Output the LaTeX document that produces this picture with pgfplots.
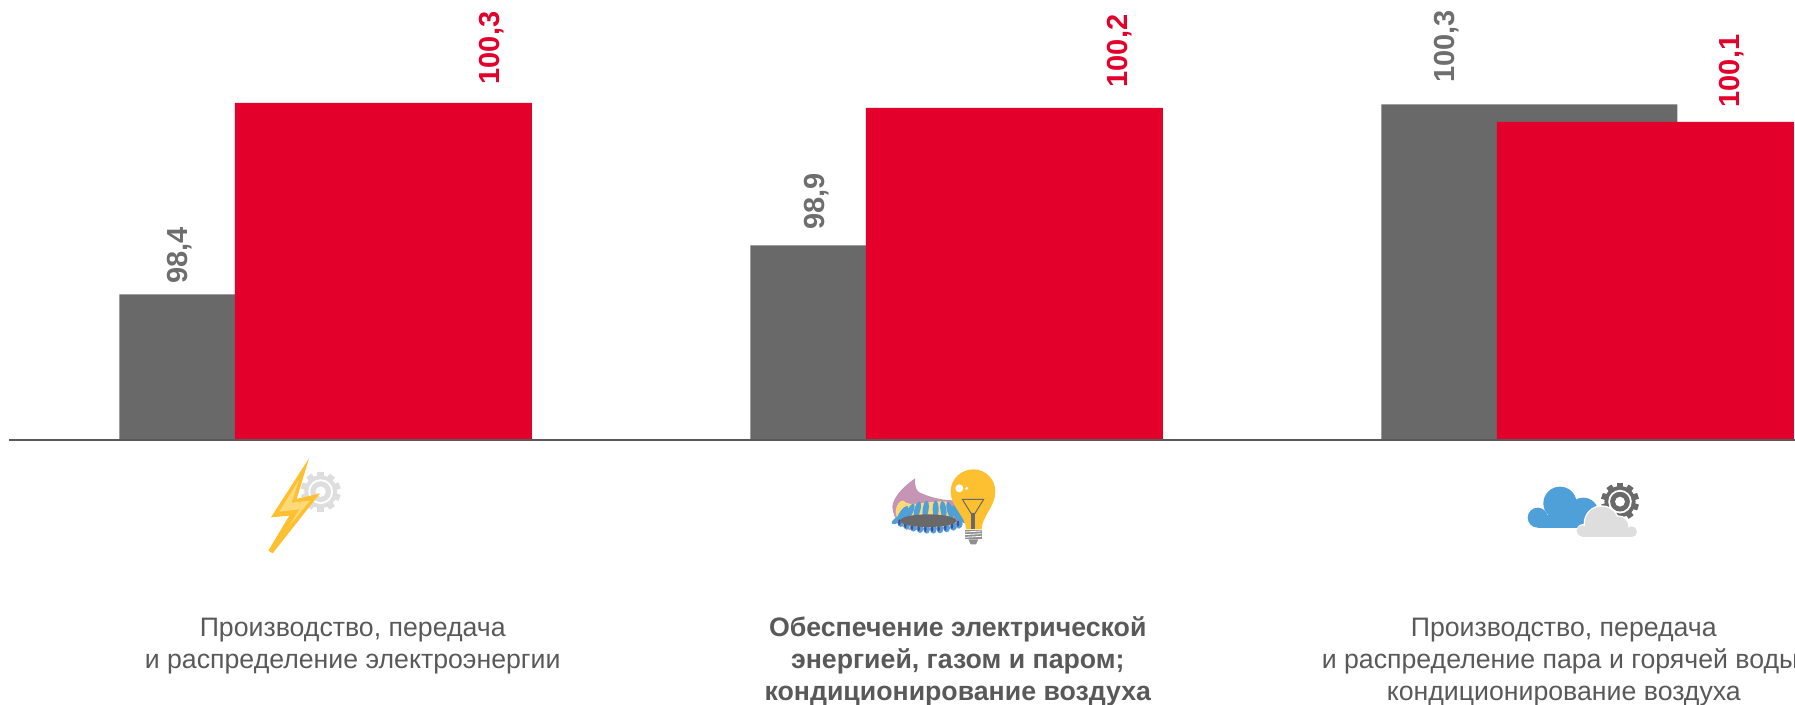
\documentclass[border=0pt]{standalone}
\usepackage{fontspec}
\setmainfont{Liberation Sans}
\usepackage{pgfplots}
\usepackage{pgfplotstable}
\pgfplotsset{compat=1.18}
\definecolor{cgray}{HTML}{696969}
\definecolor{cred}{HTML}{E3002A}
\definecolor{ltxt}{HTML}{6E6E6E}
\definecolor{ctxt}{HTML}{595959}
\definecolor{cyel}{HTML}{FDC030}
\definecolor{cyel2}{HTML}{FDD97A}
\definecolor{cblue}{HTML}{4F9FD8}
\definecolor{cpink}{HTML}{C795B4}
\definecolor{clg}{HTML}{DEDEDE}
\pgfplotstableread{
x y lbl dx dy
0 98.385 98,4 -88 10.5
1 98.875 98,9 -82 15.5
2 100.285 100,3 -83 21.5
}\grayt
\pgfplotstableread{
x y lbl dx dy
0 100.30 100,3 108 18.5
1 100.25 100,2 105.5 20.5
2 100.11 100,1 86.5 14.5
}\redt
% gear: cx cy outer-radius colour
\newcommand{\gear}[4]{%
  \foreach \a in {0,36,...,324}{\fill[#4,rotate around={\a:(#1,#2)}] (#1-0.16*#3,#2) rectangle (#1+0.16*#3,#2+#3);}
  \fill[#4] (#1,#2) circle[radius=0.82*#3];
  \fill[white] (#1,#2) circle[radius=0.62*#3];
  \fill[#4] (#1,#2) circle[radius=0.52*#3];
  \fill[white] (#1,#2) circle[radius=0.26*#3];
}
\newcommand{\up}{\rule{0pt}{20.5pt}}
\begin{document}
\begin{tikzpicture}[x=1pt,y=1pt]
\useasboundingbox (0,0) rectangle (1795,704);
\begin{axis}[
  at={(9.5pt,264pt)}, anchor=south west,
  scale only axis, width=1785.5pt, height=440pt,
  xmin=-0.5, xmax=2.33, ymin=96.93, ymax=101.33,
  axis x line=bottom, axis y line=none,
  axis line style={-, color=ctxt, line width=1.4pt},
  axis on top, clip=false,
  ytick=\empty,
  xtick={0.044,1.003,1.9635},
  xticklabels={
    {\up Производство, передача\\и распределение электроэнергии},
    {\up\bfseries Обеспечение электрической\\\bfseries энергией, газом и паром;\\\bfseries кондиционирование воздуха},
    {\up Производство, передача\\и распределение пара и горячей воды;\\кондиционирование воздуха}},
  xtick style={draw=none},
  major tick length=0pt,
  xticklabel style={align=center, anchor=north, yshift=-175.5pt, font=\fontsize{26.7}{32}\selectfont, text=ctxt, inner sep=0pt},
  ybar, bar width=296pt,
  nodes near coords,
  point meta=explicit symbolic,
]
\addplot[fill=cgray, draw=none, bar shift=-57.5pt,
  visualization depends on={\thisrow{dx} \as \dxv},
  visualization depends on={\thisrow{dy} \as \dyv},
  every node near coord/.append style={xshift=\dxv pt, yshift=\dyv pt, rotate=90, anchor=west, inner sep=0pt, text=ltxt, font=\fontsize{29}{30}\selectfont\bfseries}]
  table[x=x,y=y,meta=lbl] {\grayt};
\addplot[fill=cred, draw=none, bar shift=58.5pt, bar width=297pt,
  visualization depends on={\thisrow{dx} \as \dxv},
  visualization depends on={\thisrow{dy} \as \dyv},
  every node near coord/.append style={xshift=\dxv pt, yshift=\dyv pt, rotate=90, anchor=west, inner sep=0pt, text=cred, font=\fontsize{29}{30}\selectfont\bfseries}]
  table[x=x,y=y,meta=lbl] {\redt};
\end{axis}
% icon 1: lightning and gear (coordinates of a 3x crop)
\begin{scope}[x=0.3333pt,y=-0.3333pt,shift={(200pt,274pt)}]
  \gear{362}{185}{60}{clg}
  \fill[cyel] (327,85) -- (213,262) -- (268,257) -- (205,362) -- (218,370) -- (360,190) -- (290,207) -- cycle;
  \fill[cyel2] (297,150) -- (238,245) -- (298,238) -- (270,285) -- (330,212) -- (275,218) -- cycle;
\end{scope}
% icon 2: burner and bulb
\begin{scope}[x=0.3333pt,y=-0.3333pt,shift={(860pt,254pt)}]
  \fill[cpink] (165,85) .. controls (130,110) and (100,140) .. (97,170) .. controls (100,210) and (125,235) .. (150,240) -- (300,235) -- (290,150) .. controls (260,155) and (200,140) .. (175,125) .. controls (165,115) and (165,100) .. (165,85) -- cycle;
  \fill[cyel2] (107,185) .. controls (108,165) and (120,150) .. (130,152) .. controls (150,175) and (200,150) .. (260,155) -- (295,230) -- (140,235) .. controls (120,225) and (108,205) .. (107,185) -- cycle;
  \foreach \a/\b/\r in {128/190/-35,150/185/-25,172/180/-15,197/178/-8,227/178/0,250/179/8,270/181/15,290/190/25,118/207/-60,302/205/60}{
    \fill[cblue,rotate around={\r:(\a,\b)}] (\a,\b) ellipse[x radius=9, y radius=26];}
  \foreach \a/\b in {122/218,140/226,160/232,180/236,200/238,220/238,240/237,260/234,280/229,298/222}{
    \fill[cblue] (\a,\b) ellipse[x radius=10, y radius=13];
    \fill[cgray!70!blue] (\a-4,\b-1) ellipse[x radius=3.5, y radius=9];}
  \fill[cgray] (205,212) ellipse[x radius=85, y radius=19];
  \fill[cyel] (318,238) .. controls (318,200) and (272,170) .. (272,125) .. controls (272,85) and (305,58) .. (340,58) .. controls (375,58) and (406,85) .. (406,125) .. controls (406,170) and (365,200) .. (365,238) -- cycle;
  \fill[white] (298,115) circle[radius=12];
  \fill[white] (320,115) circle[radius=5];
  \draw[cgray,line width=1pt] (307,148) -- (371,148) -- (345,190) -- (333,190) -- cycle;
  \fill[cgray] (333,188) rectangle (345,238);
  \fill[cgray!75] (315,240) rectangle (365,268);
  \foreach \y in {246,254,262}{\draw[white,line width=0.8pt] (315,\y) -- (365,\y-3);}
  \fill[cgray!75] (325,268) -- (355,268) -- (348,283) -- (332,283) -- cycle;
\end{scope}
% icon 3: clouds and gear
\begin{scope}[x=0.3333pt,y=-0.3333pt,shift={(1500pt,244pt)}]
  \gear{360}{125}{57}{cgray}
  \fill[cblue] (113,173) circle[radius=30];
  \fill[cblue] (180,130) circle[radius=50];
  \fill[cblue] (250,158) circle[radius=45];
  \fill[cblue] (113,165) rectangle (290,203);
  \begin{scope}
    \clip (200,100) rectangle (450,230);
    \fill[white] (305,190) circle[radius=54];
    \fill[white] (355,200) circle[radius=34];
    \fill[white] (250,213) circle[radius=21];
    \fill[clg] (305,190) circle[radius=50];
    \fill[clg] (355,200) circle[radius=30];
    \fill[clg] (395,215) circle[radius=16];
    \fill[clg] (247,213) circle[radius=17];
    \fill[clg] (247,205) rectangle (395,230);
  \end{scope}
\end{scope}
\end{tikzpicture}
\end{document}
